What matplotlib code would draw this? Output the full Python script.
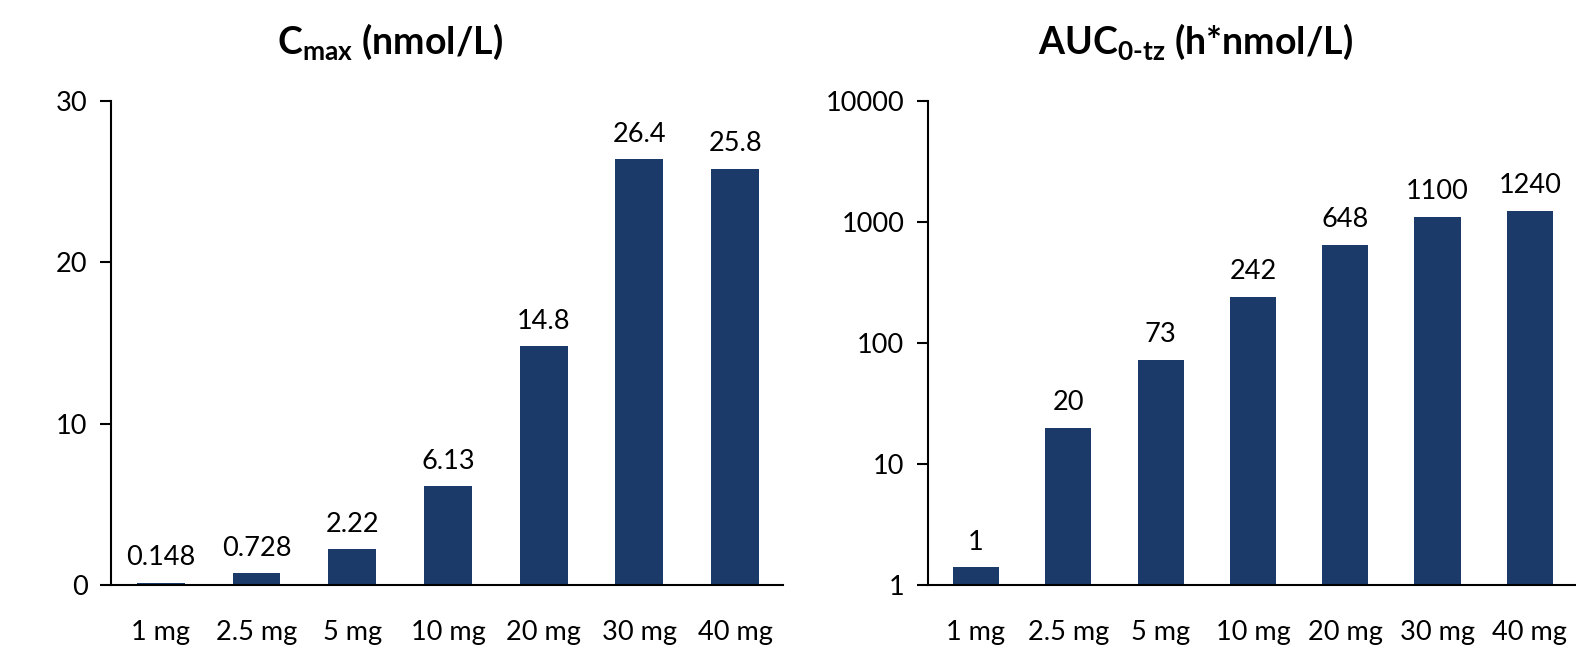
import numpy as np
import matplotlib.pyplot as plt
from matplotlib.ticker import FixedLocator, NullLocator, FuncFormatter

plt.rcParams['font.family'] = ['Lato', 'DejaVu Sans']
plt.rcParams['mathtext.fontset'] = 'custom'
plt.rcParams['mathtext.bf'] = 'Lato:bold'
plt.rcParams['mathtext.rm'] = 'Lato:bold'

doses = ['1 mg', '2.5 mg', '5 mg', '10 mg', '20 mg', '30 mg', '40 mg']
cmax = [0.148, 0.728, 2.22, 6.13, 14.8, 26.4, 25.8]
cmax_labels = ['0.148', '0.728', '2.22', '6.13', '14.8', '26.4', '25.8']
auc = [1.4, 20, 73, 242, 648, 1100, 1240]
auc_labels = ['1', '20', '73', '242', '648', '1100', '1240']

bar_color = '#1b3a6a'
fs = 19.5

fig = plt.figure(figsize=(15.76, 6.5), dpi=100)
ax1 = fig.add_axes([111/1576, 0.1, (783-111)/1576, (585-101)/650])
ax2 = fig.add_axes([928/1576, 0.1, (1576-928)/1576, (585-101)/650])

x = np.arange(len(doses))

def style(ax):
    for s in ['top', 'right']:
        ax.spines[s].set_visible(False)
    for s in ['left', 'bottom']:
        ax.spines[s].set_linewidth(1.5)
        ax.spines[s].set_color('black')
    ax.tick_params(axis='y', length=8, width=1.5, labelsize=fs, pad=9)
    ax.tick_params(axis='x', length=0, labelsize=fs, pad=25)
    ax.set_xticks(x)
    ax.set_xticklabels(doses)

# left: Cmax
ax1.bar(x, cmax, width=0.5, color=bar_color)
ax1.set_xlim(-0.52, 6.5)
ax1.set_ylim(0, 30)
ax1.set_yticks([0, 10, 20, 30])
style(ax1)
for xi, v, lab in zip(x, cmax, cmax_labels):
    ax1.annotate(lab, (xi, v), xytext=(0, 9), textcoords='offset points',
                 ha='center', va='bottom', fontsize=fs)

# right: AUC (log)
ax2.bar(x, auc, width=0.5, color=bar_color)
ax2.set_yscale('log')
ax2.set_xlim(-0.52, 6.5)
ax2.set_ylim(1, 10000)
ax2.yaxis.set_major_locator(FixedLocator([1, 10, 100, 1000, 10000]))
ax2.yaxis.set_minor_locator(NullLocator())
ax2.yaxis.set_major_formatter(FuncFormatter(lambda v, p: '%d' % v))
style(ax2)
for xi, v, lab in zip(x, auc, auc_labels):
    ax2.annotate(lab, (xi, v), xytext=(0, 9), textcoords='offset points',
                 ha='center', va='bottom', fontsize=fs)

fig.text(390/1576, 1-42/650, r'C$_{\mathbf{max}}$ (nmol/L)', ha='center', va='center',
         fontsize=27, fontweight='bold')
fig.text(1195/1576, 1-42/650, r'AUC$_{\mathbf{0\text{-}tz}}$ (h*nmol/L)', ha='center', va='center',
         fontsize=27, fontweight='bold')

fig.savefig('out.png', dpi=100)
